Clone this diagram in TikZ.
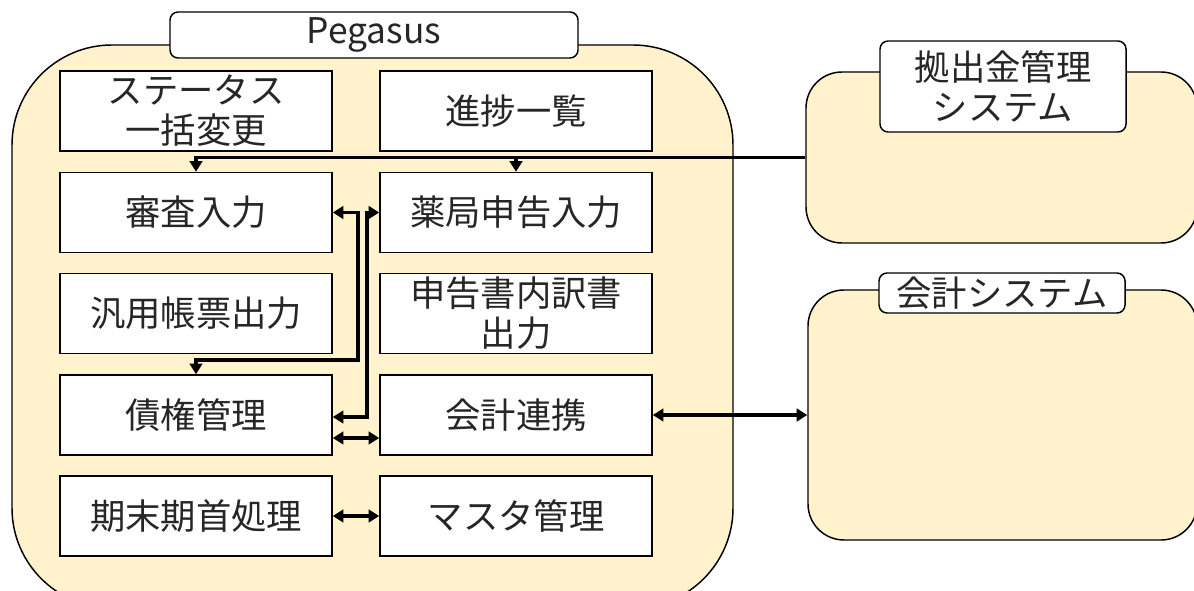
\documentclass[tikz,border=0pt]{standalone}
\usepackage{fontspec}
\setmainfont{Noto Sans CJK JP}
\usetikzlibrary{arrows.meta}
\definecolor{cream}{HTML}{FFF2CC}
\definecolor{txt}{HTML}{262626}
\newcommand\jpfont{\fontsize{26.5pt}{30pt}\selectfont}
\tikzset{
  frame/.style={draw=black, line width=1.1pt, fill=cream, inner sep=0pt},
  titlebox/.style={draw=black, line width=1.1pt, fill=white, rounded corners=6pt, inner sep=0pt, text=txt, font=\jpfont, align=center},
  func/.style={draw=black, line width=1.2pt, fill=white, minimum width=204pt, minimum height=60pt, inner sep=0pt, text=txt, font=\jpfont, align=center},
  tip/.tip={Triangle[length=8pt,width=9.5pt]},
  conn/.style={line width=2.8pt, draw=black, -tip},
  dbl/.style={line width=2.8pt, draw=black, tip-tip}
}
\begin{document}
\begin{tikzpicture}[x=0.75pt,y=-0.75pt]
\useasboundingbox (0,0) rectangle (1194,591);
\clip (0,0) rectangle (1194,591);
% outer frames
\node[frame, rounded corners=75pt, minimum width=540.75pt, minimum height=422.25pt] (peg) at (372.5,326.5) {};
\node[frame, rounded corners=27pt, minimum width=293.25pt, minimum height=128.25pt] (kyo) at (1001.5,157.5) {};
\node[frame, rounded corners=27pt, minimum width=291.75pt, minimum height=187.5pt] (kaisys) at (1002.5,415) {};
% titles
\node[titlebox, minimum width=306pt, minimum height=34.5pt] (pegt) at (374,35) {Pegasus};
\node[titlebox, minimum width=184.5pt, minimum height=68.25pt] (kyot) at (1003,86.5) {拠出金管理\\システム};
\node[titlebox, minimum width=184.5pt, minimum height=30pt] (kaisyst) at (1002,293) {会計システム};
% function boxes
\node[func] (status)    at (196,111)   {ステータス\\一括変更};
\node[func] (shinchoku) at (516,111)   {進捗一覧};
\node[func] (shinsa)    at (196,212.5) {審査入力};
\node[func] (yakkyoku)  at (516,212.5) {薬局申告入力};
\node[func] (hanyou)    at (196,313.5) {汎用帳票出力};
\node[func] (uchiwake)  at (516,313.5) {申告書内訳書\\出力};
\node[func] (saiken)    at (196,415)   {債権管理};
\node[func] (renkei)    at (516,415)   {会計連携};
\node[func] (kimatsu)   at (196,516)   {期末期首処理};
\node[func] (master)    at (516,516)   {マスタ管理};
% connectors
\draw[conn] (kyo.west) -| (shinsa.north);
\draw[conn] (yakkyoku.north |- kyo.west) -- (yakkyoku.north);
\coordinate (c1) at (358,360);
\draw[dbl] (shinsa.east) -| (c1) -| (saiken.north);
\coordinate (c2) at (367,417);
\draw[dbl] (yakkyoku.west) -| (c2) -- (c2 -| saiken.east);
\coordinate (c3) at (356,438);
\draw[dbl] (c3 -| saiken.east) -- (c3 -| renkei.west);
\draw[dbl] (kimatsu.east) -- (master.west);
\draw[dbl] (renkei.east) -- (kaisys.west);
\end{tikzpicture}
\end{document}
